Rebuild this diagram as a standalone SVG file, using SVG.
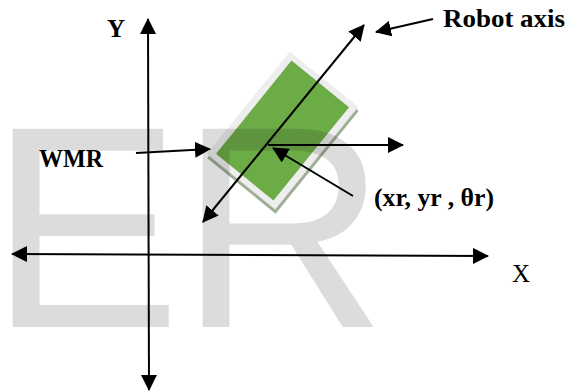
<svg xmlns="http://www.w3.org/2000/svg" width="568" height="391" viewBox="0 0 568 391">
  <style>
    .ln { stroke: #000; stroke-width: 2; fill: none; }
    .lbl { font-family: "Liberation Serif", "Times New Roman", serif; font-size: 25px; fill: #000; }
    .b { font-weight: bold; }
    .wm { font-family: "Liberation Sans", Arial, sans-serif; font-size: 288px; fill: #000; fill-opacity: 0.137; }
  </style>
  <defs>
    <marker id="ah" viewBox="0 0 16 16" refX="15" refY="8" markerWidth="16" markerHeight="16" markerUnits="userSpaceOnUse" orient="auto-start-reverse">
      <path d="M0,0 L16,8 L0,16 Z" fill="#000"/>
    </marker>
  </defs>
  <rect width="568" height="391" fill="#fff"/>

  <g id="robot" transform="translate(282.5,130.5) rotate(39)">
    <rect x="-41" y="-63" width="88" height="132" fill="#9fae96"/>
    <rect x="-44" y="-66" width="88" height="132" fill="#eeeeee"/>
    <rect x="-37" y="-60" width="74" height="120" fill="#6cac47"/>
  </g>

  <g id="watermark">
    <text class="wm" x="-11 179" y="327">ER</text>
  </g>

  <g id="connectors">
    <line class="ln" x1="149" y1="390" x2="148" y2="19" marker-start="url(#ah)" marker-end="url(#ah)"/>
    <line class="ln" x1="488" y1="256" x2="12" y2="254" marker-start="url(#ah)" marker-end="url(#ah)"/>
    <line class="ln" x1="203" y1="222" x2="364" y2="25" marker-start="url(#ah)" marker-end="url(#ah)"/>
    <line class="ln" x1="268" y1="145" x2="403" y2="145" marker-end="url(#ah)"/>
    <line class="ln" x1="136" y1="153" x2="210" y2="149" marker-end="url(#ah)"/>
    <line class="ln" x1="353" y1="196" x2="273" y2="148" marker-end="url(#ah)"/>
    <line class="ln" x1="433" y1="19" x2="376" y2="32" marker-end="url(#ah)"/>
  </g>

  <g id="label-y"><text class="lbl b" x="107" y="37">Y</text></g>
  <g id="label-x"><text class="lbl" x="512" y="282">X</text></g>
  <g id="label-robot-axis"><text class="lbl b" x="443" y="27" textLength="122" lengthAdjust="spacingAndGlyphs">Robot axis</text></g>
  <g id="label-wmr"><text class="lbl b" x="39" y="167" textLength="64" lengthAdjust="spacingAndGlyphs">WMR</text></g>
  <g id="label-pose"><text class="lbl b" x="374" y="206" textLength="120" lengthAdjust="spacingAndGlyphs">(xr, yr , θr)</text></g>
</svg>
